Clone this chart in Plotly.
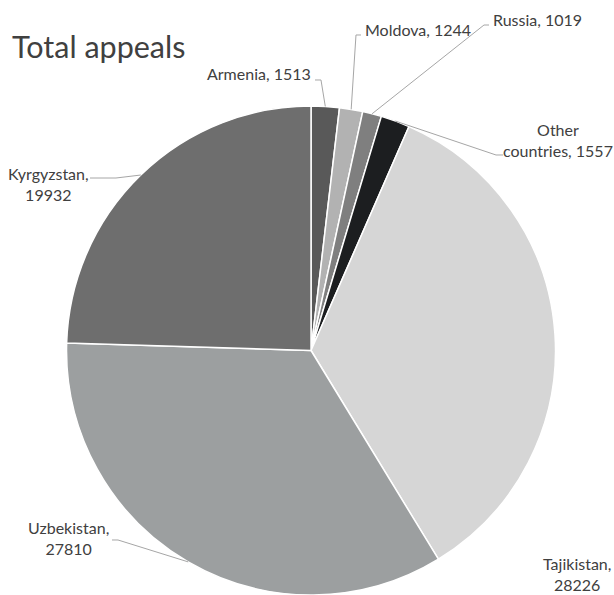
import math
import plotly.graph_objects as go

# ---- data ----
countries = ["Armenia", "Moldova", "Russia", "Other countries",
             "Tajikistan", "Uzbekistan", "Kyrgyzstan"]
appeals = [1513, 1244, 1019, 1557, 28226, 27810, 19932]
slice_colors = ["#595959", "#b2b2b2", "#7f7f7f", "#1c1e20",
                "#d6d6d6", "#9c9fa0", "#6e6e6e"]
label_texts = ["Armenia, 1513", "Moldova, 1244", "Russia, 1019",
               "Other<br>countries, 1557", "Tajikistan,<br>28226",
               "Uzbekistan,<br>27810", "Kyrgyzstan,<br>19932"]

W, H = 614, 595
dom_x = [0.1059, 0.9072]
dom_y = [0.0, 0.8218]

# pie geometry as plotly computes it (margins are zero)
vpw = W * (dom_x[1] - dom_x[0])
vph = H * (dom_y[1] - dom_y[0])
R = min(vpw, vph) / 2
CX = W * (dom_x[0] + dom_x[1]) / 2
CY = H * (1 - dom_y[0]) - vph / 2

def px2paper(px, py):
    return px / W, 1 - py / H

# label layout (pixel positions of text, anchors, and leader outer points)
label_layout = [
    (313, 73, "right", "right", [(315, 80), (321, 80)]),
    (363, 29, "left", "left", [(361, 35), (356, 35)]),
    (491, 19, "left", "left", [(489, 25), (484, 25)]),
    (558, 140, "center", "center", [(503, 155), (496, 155)]),
    (613, 574, "right", "center", None),
    (68, 538, "center", "center", [(112, 540), (118, 540)]),
    (49, 184, "center", "center", [(90, 178), (116, 178)]),
]

fig = go.Figure()
fig.add_trace(go.Pie(
    labels=countries,
    values=appeals,
    sort=False,
    direction="clockwise",
    rotation=0,
    textinfo="none",
    hoverinfo="label+value",
    marker=dict(colors=slice_colors, line=dict(color="white", width=1.5)),
    domain=dict(x=dom_x, y=dom_y),
    showlegend=False,
))

total = sum(appeals)
cum = 0
shapes = []
annotations = []
for val, txt, lay in zip(appeals, label_texts, label_layout):
    mid = (cum + val / 2) / total * 2 * math.pi
    cum += val
    ex = CX + R * math.sin(mid)
    ey = CY - R * math.cos(mid)
    tx, ty, xa, al, pts = lay
    if pts:
        path_pts = pts + [(ex, ey)]
        path = ""
        for i, (a, b) in enumerate(path_pts):
            X, Y = px2paper(a, b)
            path += ("M" if i == 0 else " L") + f"{X:.5f},{Y:.5f}"
        shapes.append(dict(type="path", xref="paper", yref="paper", path=path,
                           line=dict(color="#a6a6a6", width=1)))
    X, Y = px2paper(tx, ty)
    annotations.append(dict(x=X, y=Y, xref="paper", yref="paper", text=txt,
                            showarrow=False, xanchor=xa, yanchor="middle",
                            align=al,
                            font=dict(family="Lato", size=16, color="#404040")))

annotations.append(dict(x=10 / W, y=1 - 46 / H, xref="paper", yref="paper",
                        text="Total appeals", showarrow=False,
                        xanchor="left", yanchor="middle",
                        font=dict(family="Lato", size=30.5, color="#404040")))

fig.update_layout(
    width=W, height=H,
    margin=dict(l=0, r=0, t=0, b=0),
    paper_bgcolor="white",
    plot_bgcolor="white",
    shapes=shapes,
    annotations=annotations,
)

fig.write_html("out.html",
               config={"displayModeBar": False},
               post_script="document.body.style.margin='0';"
                           "document.body.style.overflow='hidden';")
